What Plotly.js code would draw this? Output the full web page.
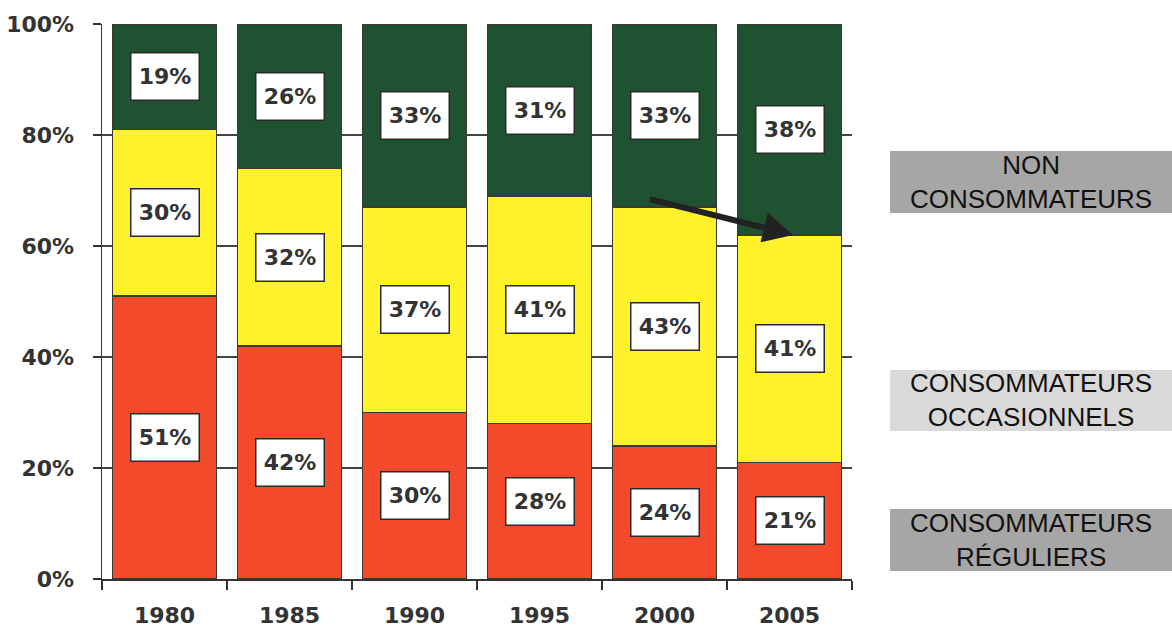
<!DOCTYPE html>
<html>
<head>
<meta charset="utf-8">
<script src="https://cdn.plot.ly/plotly-3.0.1.min.js"></script>
<style>
html,body{margin:0;padding:0;background:#fff;}
#chart{width:1172px;height:628px;}
</style>
</head>
<body>
<div id="chart"></div>
<script>
// ---- data ----
const years = ["1980", "1985", "1990", "1995", "2000", "2005"];
const reguliers = [51, 42, 30, 28, 24, 21];
const occasionnels = [30, 32, 37, 41, 43, 41];
const nonConsommateurs = [19, 26, 33, 31, 33, 38];
const seriesNames = ["CONSOMMATEURS RÉGULIERS", "CONSOMMATEURS OCCASIONNELS", "NON CONSOMMATEURS"];
const legendLabels = ["CONSOMMATEURS<br>RÉGULIERS", "CONSOMMATEURS<br>OCCASIONNELS", "NON<br>CONSOMMATEURS"];
const yTicks = [0, 20, 40, 60, 80, 100];

// ---- styles ----
const colors = ["#f24a2b", "#fff22a", "#1f5230"];
const series = [reguliers, occasionnels, nonConsommateurs];
const boxFill = ["#a6a6a6", "#d9d9d9", "#a6a6a6"];
const boxY = [[0.0144, 0.1261], [0.2667, 0.3766], [0.6595, 0.7712]];
const labelFont = {family: "DejaVu Sans, Arial, sans-serif", size: 22, color: "#333333", weight: "bold"};

const traces = series.map((vals, i) => ({
  type: "bar",
  name: seriesNames[i],
  x: years,
  y: vals,
  marker: {color: colors[i], line: {color: "#3a3a30", width: 1.5}},
  hoverinfo: "skip",
  showlegend: false
}));

const annotations = [];
// value labels centred in each segment (x given as category index)
years.forEach((yr, j) => {
  let cum = 0;
  series.forEach((vals) => {
    const v = vals[j];
    annotations.push({
      x: j, y: cum + v / 2, xref: "x", yref: "y",
      text: v + "%", showarrow: false,
      font: labelFont,
      bgcolor: "#ffffff", bordercolor: "#2a2a2a", borderwidth: 1.5,
      borderpad: 2, width: 63, height: 42
    });
    cum += v;
  });
});

// arrow from 2000 to 2005 (top of occasional consumers)
const cumTop = years.map((_, j) => reguliers[j] + occasionnels[j]);
annotations.push({
  x: 5.03, y: cumTop[5], xref: "x", yref: "y",
  ax: 3.87, ay: cumTop[4] + 1.5, axref: "x", ayref: "y",
  showarrow: true, arrowhead: 2, arrowsize: 1, arrowwidth: 6,
  arrowcolor: "#222222", text: ""
});

// right-side category boxes
const shapes = [];
legendLabels.forEach((lab, i) => {
  shapes.push({
    type: "rect", xref: "paper", yref: "paper",
    x0: 1.0507, x1: 1.43, y0: boxY[i][0], y1: boxY[i][1],
    fillcolor: boxFill[i], line: {width: 0}, layer: "below"
  });
  annotations.push({
    xref: "paper", yref: "paper",
    x: 1.2387, y: (boxY[i][0] + boxY[i][1]) / 2,
    xanchor: "center", yanchor: "middle",
    text: lab, showarrow: false, align: "center",
    font: {family: "Liberation Sans, Arial, sans-serif", size: 26, color: "#111111"}
  });
});

const layout = {
  width: 1172, height: 628,
  margin: {l: 102, r: 320, t: 24, b: 49, pad: 0},
  paper_bgcolor: "#ffffff", plot_bgcolor: "#ffffff",
  barmode: "stack", bargap: 0.17,
  showlegend: false,
  xaxis: {
    type: "category",
    categoryorder: "array", categoryarray: years,
    range: [-0.5, years.length - 0.5],
    tickson: "boundaries",
    ticks: "outside", ticklen: 9, tickwidth: 1.5, tickcolor: "#333333",
    showline: true, linecolor: "#333333", linewidth: 1.5,
    showgrid: false, zeroline: false,
    tickangle: 0,
    tickfont: labelFont,
    ticklabelstandoff: 16,
    fixedrange: true
  },
  yaxis: {
    range: [0, 100],
    tickvals: yTicks,
    ticktext: yTicks.map(v => v + "%"),
    ticks: "outside", ticklen: 8, tickwidth: 1.5, tickcolor: "#333333",
    showline: true, linecolor: "#333333", linewidth: 1.5,
    showgrid: true, gridcolor: "#444444", gridwidth: 1.5,
    zeroline: false,
    tickfont: labelFont,
    ticklabelstandoff: 14,
    fixedrange: true
  },
  annotations: annotations,
  shapes: shapes
};

Plotly.newPlot("chart", traces, layout, {displayModeBar: false, staticPlot: true});
</script>
</body>
</html>
